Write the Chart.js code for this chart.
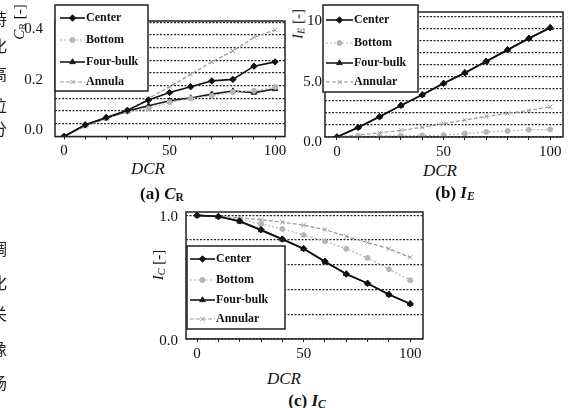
<!DOCTYPE html>
<html>
<head>
<meta charset="utf-8">
<script src="https://cdn.jsdelivr.net/npm/chart.js@4.4.1/dist/chart.umd.min.js"></script>
<style>
    body { margin: 0; background: #fff; }
    #lienzo { position: relative; width: 576px; height: 408px; overflow: hidden; background: #fff; }
    canvas { position: absolute; }
    .etq { position: absolute; transform: translate(-50%, -50%); white-space: nowrap;
           font-family: "Liberation Serif", "Times New Roman", serif; color: #111; line-height: 1; }
    .etq sub { font-size: 0.68em; position: relative; top: 0.15em; vertical-align: baseline; }
    .tituloY { font-size: 15px; transform: translate(-50%, -50%) rotate(-90deg); }
    .dcr { font-size: 17px; font-style: italic; }
    .pie { font-size: 17px; font-weight: bold; }
    .cjk { position: absolute; left: -9px; font-family: "Noto Sans CJK SC", sans-serif; font-size: 16px; color: #222; line-height: 1; }
</style>
</head>
<body>
<div id="lienzo">
    <canvas id="grafico-cr" width="290" height="160" style="left:0px;top:0px"></canvas>
    <canvas id="grafico-ie" width="286" height="160" style="left:290px;top:0px"></canvas>
    <canvas id="grafico-ic" width="300" height="170" style="left:140px;top:195px"></canvas>

    <!-- restos del texto de la página, cortados en el borde izquierdo -->
    <div class="cjk" style="top:10px">持</div>
    <div class="cjk" style="top:37px">化</div>
    <div class="cjk" style="top:65px">高</div>
    <div class="cjk" style="top:97px">位</div>
    <div class="cjk" style="top:120px">分</div>
    <div class="cjk" style="top:240px">调</div>
    <div class="cjk" style="top:274px">化</div>
    <div class="cjk" style="top:305px">关</div>
    <div class="cjk" style="top:340px">像</div>
    <div class="cjk" style="top:374px">场</div>

    <div class="etq tituloY" style="left:19px;top:22px"><i>C</i><sub>R</sub> [-]</div>
    <div class="etq tituloY" style="left:298px;top:24px"><i>I</i><sub><i>E</i></sub> [-]</div>
    <div class="etq tituloY" style="left:158px;top:265px"><i>I</i><sub><i>C</i></sub> [-]</div>

    <div class="etq dcr" style="left:148px;top:168px">DCR</div>
    <div class="etq dcr" style="left:440px;top:170px">DCR</div>
    <div class="etq dcr" style="left:284px;top:378px">DCR</div>

    <div class="etq pie" style="left:162px;top:193px">(a) <i>C</i><sub>R</sub></div>
    <div class="etq pie" style="left:455px;top:192px">(b) <i>I</i><sub><i>E</i></sub></div>
    <div class="etq pie" style="left:307px;top:400px">(c) <i>I</i><sub><i>C</i></sub></div>
</div>

<script>
// Valores de DCR (eje x comun a los tres graficos)
const dcr = [0, 10, 20, 30, 40, 50, 60, 70, 80, 90, 100];
const nombresSeries = ["Center", "Bottom", "Four-bulk", "Annular"];

// (a) C_R
const crCenter   = [0, 0.046, 0.075, 0.103, 0.144, 0.173, 0.196, 0.219, 0.225, 0.277, 0.294];
const crBottom   = [0, 0.044, 0.072, 0.098, 0.110, 0.135, 0.150, 0.160, 0.175, 0.180, 0.195];
const crFourBulk = [0, 0.045, 0.073, 0.100, 0.121, 0.141, 0.152, 0.167, 0.179, 0.173, 0.187];
const crAnnular  = [0, 0.040, 0.070, 0.100, 0.150, 0.196, 0.245, 0.294, 0.337, 0.390, 0.420];

// (b) I_E
const ieCenter   = [0, 0.79, 1.67, 2.62, 3.49, 4.44, 5.32, 6.27, 7.22, 8.17, 9.05];
const ieBottom   = [0, 0.05, 0.08, 0.10, 0.13, 0.16, 0.29, 0.42, 0.50, 0.60, 0.62];
const ieFourBulk = [0, 0.80, 1.70, 2.60, 3.50, 4.45, 5.30, 6.25, 7.20, 8.15, 9.05];
const ieAnnular  = [0, 0.15, 0.35, 0.55, 0.80, 1.10, 1.40, 1.70, 1.95, 2.20, 2.50];

// (c) I_C
const icCenter   = [1.0, 0.990, 0.955, 0.884, 0.808, 0.731, 0.628, 0.526, 0.450, 0.360, 0.284];
const icBottom   = [1.0, 0.990, 0.970, 0.930, 0.890, 0.840, 0.790, 0.730, 0.655, 0.565, 0.475];
const icFourBulk = [1.0, 0.990, 0.950, 0.880, 0.805, 0.730, 0.625, 0.525, 0.450, 0.360, 0.285];
const icAnnular  = [1.0, 0.995, 0.980, 0.965, 0.945, 0.920, 0.885, 0.830, 0.780, 0.730, 0.660];

// Etiquetas de los ejes
const ticksCR = [0, 0.2, 0.4];
const ticksIE = [0, 5, 10];
const ticksIC = [0, 1];
const ticksX = [0, 50, 100];

const fuenteSerif = '"Liberation Serif", "Times New Roman", serif';

// Estilo de cada serie
const estilos = [
    { color: "#111", dash: [], punto: "rectRot", radio: 3.2, ancho: 1.6 },
    { color: "#b5b5b5", dash: [2, 2], punto: "circle", radio: 2.5, ancho: 1.2 },
    { color: "#1a1a1a", dash: [], punto: "triangle", radio: 3.2, ancho: 1.6 },
    { color: "#9a9a9a", dash: [4, 2], punto: "crossRot", radio: 3, ancho: 1.2 }
];

function armarSeries(listas, nombres) {
    return listas.map(function (valores, i) {
        const e = estilos[i];
        return {
            label: nombres[i],
            data: dcr.map(function (x, j) { return { x: x, y: valores[j] }; }),
            showLine: true,
            borderColor: e.color,
            backgroundColor: e.color,
            borderWidth: e.ancho,
            borderDash: e.dash,
            pointStyle: e.punto,
            pointRadius: e.radio,
            pointBorderWidth: 1,
            pointBackgroundColor: e.color,
            pointBorderColor: e.color,
            tension: 0
        };
    });
}

// Marco completo alrededor del area de datos
const marcoPlugin = {
    id: "marco",
    afterDatasetsDraw(chart) {
        const ctx = chart.ctx;
        const a = chart.chartArea;
        ctx.save();
        ctx.strokeStyle = "#222";
        ctx.lineWidth = 1.5;
        ctx.setLineDash([]);
        ctx.strokeRect(a.left, a.top, a.right - a.left, a.bottom - a.top);
        ctx.restore();
    }
};

// Leyenda dibujada dentro del grafico, con caja
const leyendaPlugin = {
    id: "leyendaCaja",
    afterDraw(chart, args, op) {
        const ctx = chart.ctx;
        ctx.save();
        ctx.fillStyle = "#fff";
        ctx.fillRect(op.x, op.y, op.w, op.h);
        ctx.strokeStyle = "#222";
        ctx.lineWidth = 1.5;
        ctx.strokeRect(op.x, op.y, op.w, op.h);
        chart.data.datasets.forEach(function (ds, i) {
            const fy = op.filas[i];
            ctx.strokeStyle = ds.borderColor;
            ctx.lineWidth = ds.borderWidth;
            ctx.setLineDash(ds.borderDash);
            ctx.beginPath();
            ctx.moveTo(op.x0, fy);
            ctx.lineTo(op.x1, fy);
            ctx.stroke();
            ctx.setLineDash([]);
            ctx.fillStyle = ds.pointBackgroundColor;
            ctx.strokeStyle = ds.pointBorderColor;
            ctx.lineWidth = 1;
            Chart.helpers.drawPoint(ctx, {
                pointStyle: ds.pointStyle, radius: ds.pointRadius, rotation: 0, borderWidth: 1
            }, (op.x0 + op.x1) / 2, fy);
            ctx.fillStyle = "#111";
            ctx.font = "bold 12px " + fuenteSerif;
            ctx.textBaseline = "middle";
            ctx.textAlign = "left";
            ctx.fillText(op.textos ? op.textos[i] : ds.label, op.x1 + 1, fy);
        });
        ctx.restore();
    }
};

function crearGrafico(id, series, cfg) {
    const ctx = document.getElementById(id).getContext("2d");
    return new Chart(ctx, {
        type: "scatter",
        data: { datasets: series },
        plugins: [marcoPlugin, leyendaPlugin],
        options: {
            responsive: false,
            animation: false,
            devicePixelRatio: 1,
            layout: { padding: { top: cfg.arriba, right: cfg.derecha, left: 0, bottom: 0 } },
            plugins: {
                legend: { display: false },
                tooltip: { enabled: false },
                leyendaCaja: cfg.leyenda
            },
            scales: {
                x: {
                    type: "linear",
                    min: cfg.xMin,
                    max: cfg.xMax,
                    afterFit: function (s) { s.height = cfg.altoX; },
                    grid: { drawOnChartArea: false, drawTicks: true, tickLength: 3, color: "#222" },
                    border: { display: false },
                    ticks: {
                        stepSize: 10,
                        includeBounds: false,
                        autoSkip: false,
                        maxRotation: 0,
                        padding: 3,
                        color: "#111",
                        font: { family: fuenteSerif, size: 15 },
                        callback: function (v) { return ticksX.includes(v) ? String(v) : ""; }
                    }
                },
                y: {
                    min: cfg.yMin,
                    max: cfg.yMax,
                    afterFit: function (s) { s.width = cfg.anchoY; },
                    grid: { color: "#262626", lineWidth: 1.3, drawTicks: false, borderDash: [2, 1.5] },
                    border: { display: false, dash: [2, 1.5] },
                    ticks: {
                        stepSize: cfg.paso,
                        includeBounds: false,
                        autoSkip: false,
                        padding: cfg.separacionY,
                        labelOffset: cfg.desfaseY,
                        color: "#111",
                        font: { family: fuenteSerif, size: 15 },
                        callback: cfg.etiquetaY
                    }
                }
            }
        }
    });
}

function redondear(v) {
    return Math.round(v * 1000) / 1000;
}

window.onload = function () {
    // (a) C_R
    crearGrafico("grafico-cr", armarSeries([crCenter, crBottom, crFourBulk, crAnnular], nombresSeries), {
        xMin: -4.3, xMax: 104.7, yMin: 0, yMax: 0.455, paso: 0.05,
        arriba: 5, derecha: 5, altoX: 23.5, anchoY: 55, separacionY: 12, desfaseY: -6,
        etiquetaY: function (v) {
            const r = redondear(v);
            return ticksCR.includes(r) ? r.toFixed(1) : "";
        },
        leyenda: {
            x: 55, y: 5, w: 93, h: 86, x0: 60, x1: 85, filas: [18, 40, 62, 82],
            textos: ["Center", "Bottom", "Four-bulk", "Annula"]
        }
    });

    // (b) I_E
    crearGrafico("grafico-ie", armarSeries([ieCenter, ieBottom, ieFourBulk, ieAnnular], nombresSeries), {
        xMin: -5.6, xMax: 106, yMin: 0, yMax: 10.35, paso: 1,
        arriba: 6, derecha: 13, altoX: 23, anchoY: 35, separacionY: 3, desfaseY: 5,
        etiquetaY: function (v) {
            const r = redondear(v);
            if (!ticksIE.includes(r)) return "";
            return r === 10 ? "10" : r.toFixed(1);
        },
        leyenda: { x: 33, y: 5, w: 95, h: 87, x0: 36, x1: 63, filas: [20, 43, 63, 82] }
    });

    // (c) I_C
    crearGrafico("grafico-ic", armarSeries([icCenter, icBottom, icFourBulk, icAnnular], nombresSeries), {
        xMin: -5.2, xMax: 106, yMin: 0, yMax: 1.027, paso: 0.2,
        arriba: 10, derecha: 17, altoX: 26, anchoY: 46, separacionY: 8, desfaseY: 2,
        etiquetaY: function (v) {
            const r = redondear(v);
            return ticksIC.includes(r) ? r.toFixed(1) : "";
        },
        leyenda: { x: 47, y: 51, w: 98, h: 83, x0: 50, x1: 75, filas: [64, 85, 105, 124] }
    });
};
</script>
</body>
</html>
